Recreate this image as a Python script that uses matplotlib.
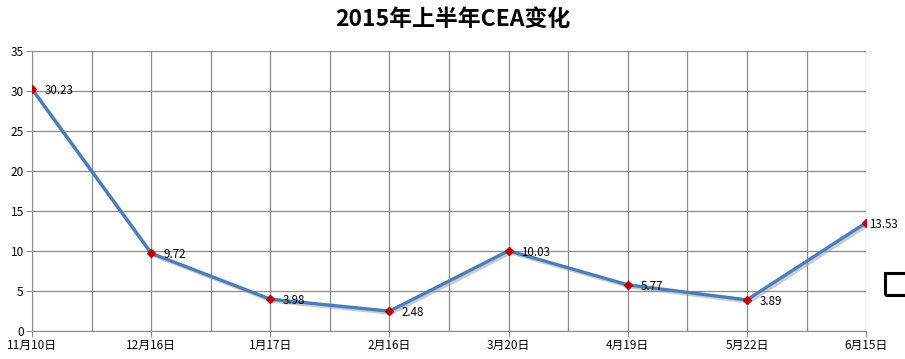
import matplotlib
matplotlib.use("Agg")
import matplotlib.pyplot as plt
import matplotlib.patheffects as pe
from matplotlib.patches import Rectangle

plt.rcParams['font.family'] = ['Noto Sans CJK SC', 'DejaVu Sans']

dates = ["11月10日", "12月16日", "1月17日", "2月16日", "3月20日", "4月19日", "5月22日", "6月15日"]
cea = [30.23, 9.72, 3.98, 2.48, 10.03, 5.77, 3.89, 13.53]
yticks = [0, 5, 10, 15, 20, 25, 30, 35]

fig = plt.figure(figsize=(9.05, 3.59), dpi=100)
ax = fig.add_axes([0.0354, 0.078, 0.9216, 0.780])

x = list(range(len(dates)))
ax.plot(x, cea, color="#4A7EBB", lw=2.4, zorder=3,
        path_effects=[pe.SimpleLineShadow(offset=(1.5, -1.5), shadow_color="#999999", alpha=0.5),
                      pe.Normal()])
ax.plot(x, cea, ls="none", marker="D", ms=4.5, color="#C00000", zorder=4)

for xi, v in zip(x, cea):
    ax.annotate(f"{v:.2f}", (xi, v), xytext=(9 if xi < len(x) - 1 else 2, -1),
                textcoords="offset points", va="center", ha="left", fontsize=8.3, color="black")

ax.set_xlim(0, len(dates) - 1)
ax.set_ylim(0, 35)
ax.set_xticks(x)
ax.set_xticklabels(dates, fontsize=8.5)
ax.set_xticks([i + 0.5 for i in x[:-1]], minor=True)
ax.set_yticks(yticks)
ax.set_yticklabels([str(t) for t in yticks], fontsize=8.5)
ax.grid(True, which="both", color="#8C8C8C", lw=0.9)
ax.tick_params(axis="both", which="major", length=4, color="#8C8C8C", pad=2)
ax.tick_params(axis="x", which="minor", length=0)
for s in ["top", "right"]:
    ax.spines[s].set_visible(False)
for s in ["left", "bottom"]:
    ax.spines[s].set_color("#8C8C8C")

fig.text(0.5, 0.945, "2015年上半年CEA变化", ha="center", va="center", fontsize=16.5, fontweight="bold")

# stray legend box at the right edge
fig.add_artist(Rectangle((885 / 905, 1 - 295 / 359), 0.05, 22 / 359, transform=fig.transFigure,
                         fill=False, lw=2.2, ec="black", clip_on=False))

fig.savefig("out.png", dpi=100)
